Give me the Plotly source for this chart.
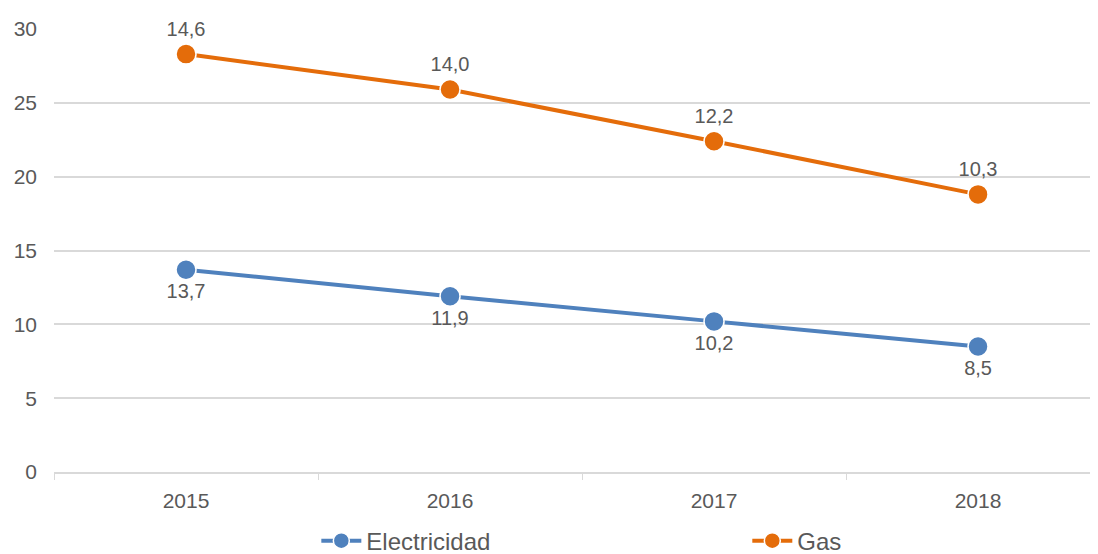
import plotly.graph_objects as go

years = ["2015", "2016", "2017", "2018"]
electricidad = [13.7, 11.9, 10.2, 8.5]
gas = [14.6, 14.0, 12.2, 10.3]

def fmt(v):
    return f"{v:.1f}".replace(".", ",")

blue = "#4f81bd"
orange = "#e46c0a"
grey = "#595959"

fig = go.Figure()

# stacked lines (Excel "stacked line" chart), labels show each series' own value
fig.add_trace(go.Scatter(
    x=years, y=electricidad, name="Electricidad", stackgroup="one", fill="none",
    mode="lines+markers+text", text=[fmt(v) for v in electricidad],
    textposition="bottom center", textfont=dict(size=20, color=grey),
    line=dict(color=blue, width=4), cliponaxis=False, legend="legend",
    marker=dict(size=20, color=blue, line=dict(color="white", width=1.5)),
))
fig.add_trace(go.Scatter(
    x=years, y=gas, name="Gas", stackgroup="one", fill="none",
    mode="lines+markers+text", text=[fmt(v) for v in gas],
    textposition="top center", textfont=dict(size=20, color=grey),
    line=dict(color=orange, width=4), cliponaxis=False, legend="legend2",
    marker=dict(size=20, color=orange, line=dict(color="white", width=1.5)),
))

leg = dict(orientation="h", xanchor="left", y=-0.156, yanchor="middle", itemwidth=40,
           font=dict(size=24, color=grey), bgcolor="rgba(0,0,0,0)")
# page body has an 8px margin, so the figure is a bit smaller than the window
fig.update_layout(
    width=1090, height=546,
    margin=dict(l=46, r=3, t=21, b=82, autoexpand=False),
    plot_bgcolor="white", paper_bgcolor="white",
    font=dict(family="Liberation Sans, Arial, sans-serif", size=21, color=grey),
    showlegend=True,
    legend=dict(leg, x=0.252),
    legend2=dict(leg, x=0.666),
)
fig.update_xaxes(
    type="category", range=[-0.5, 3.443],
    showgrid=False, showline=True, linecolor="#d9d9d9", linewidth=1.5,
    ticks="outside", tickson="boundaries", ticklen=6, tickcolor="#d9d9d9",
    tickfont=dict(size=21, color=grey), ticklabelstandoff=9,
)
fig.update_yaxes(
    range=[0, 30], dtick=5, showgrid=True, gridcolor="#d9d9d9", gridwidth=1.5,
    zeroline=False, showline=False,
    tickfont=dict(size=21, color=grey), ticklabelstandoff=16,
)

fig.write_html("out.html")
